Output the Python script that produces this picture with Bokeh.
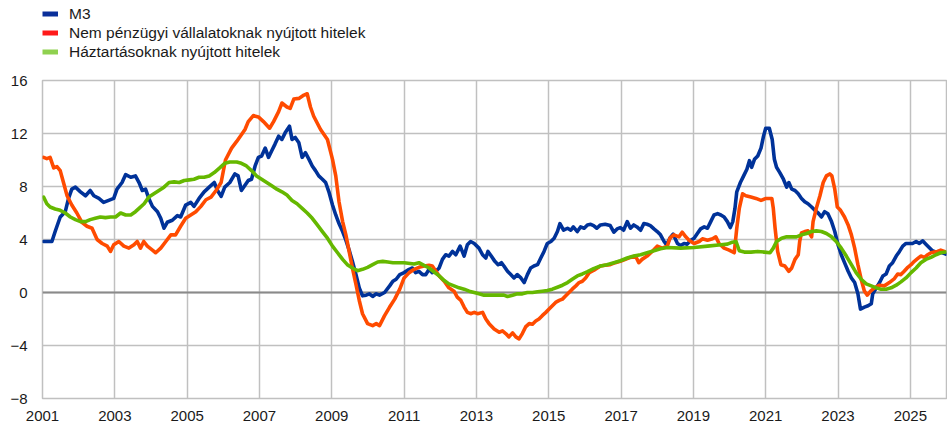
from bokeh.plotting import figure
from bokeh.layouts import column
from bokeh.models import Range1d, FixedTicker, Legend, LegendItem, Span
from bokeh.embed import file_html
from bokeh.resources import INLINE

# ---- data (decimal year, annual % change) ----
m3 = [(2001.03,3.85),(2001.26,3.85),(2001.35,4.6),(2001.49,5.7),(2001.63,6.1),(2001.72,7.1),(2001.81,7.8),(2001.91,7.95),(2002.05,7.6),(2002.19,7.3),(2002.32,7.7),(2002.42,7.3),(2002.56,7.1),(2002.69,6.8),(2002.83,6.95),(2002.97,7.1),(2003.06,7.8),(2003.2,8.3),(2003.3,8.9),(2003.44,8.7),(2003.57,8.8),(2003.67,8.3),(2003.76,7.7),(2003.85,7.8),(2003.94,7.1),(2004.04,6.5),(2004.18,6.1),(2004.27,5.6),(2004.36,4.85),(2004.45,5.3),(2004.59,5.45),(2004.73,5.8),(2004.82,5.7),(2004.96,6.6),(2005.1,6.8),(2005.19,6.5),(2005.33,7.1),(2005.47,7.6),(2005.61,7.95),(2005.75,8.3),(2005.84,7.7),(2005.94,7.25),
      (2006.04,7.95),(2006.18,8.3),(2006.32,8.95),(2006.41,8.8),(2006.5,7.7),(2006.6,8.1),(2006.69,8.45),(2006.78,8.55),(2006.88,9.55),(2006.97,10.2),(2007.06,10.3),(2007.16,10.9),(2007.25,10.2),(2007.34,10.7),(2007.43,11.2),(2007.53,11.8),(2007.62,11.55),(2007.71,12.05),(2007.83,12.55),(2007.9,11.55),(2007.99,11.7),(2008.09,11.3),(2008.18,10.2),(2008.27,10.55),(2008.37,10.05),(2008.46,9.55),(2008.55,9.2),(2008.64,8.8),(2008.74,8.55),(2008.83,8.3),(2008.92,7.6),(2009.02,6.6),(2009.11,5.85),(2009.2,5.2),(2009.3,4.6),(2009.39,3.95),(2009.48,3.2),(2009.57,2.35),(2009.67,1.35),(2009.76,0.35),(2009.85,-0.25),(2009.95,-0.2),(2010.04,-0.1),(2010.13,-0.3),(2010.23,-0.1),(2010.32,-0.2),(2010.46,0.0),(2010.6,0.5),(2010.69,0.85),(2010.78,1.0),(2010.88,1.35),
      (2011.0,1.5),(2011.14,1.75),(2011.23,1.85),(2011.32,1.5),(2011.41,1.6),(2011.51,1.35),(2011.6,1.35),(2011.69,1.75),(2011.78,1.5),(2011.88,1.6),(2011.97,1.85),(2012.06,2.5),(2012.15,2.85),(2012.24,2.75),(2012.34,3.1),(2012.43,2.85),(2012.55,3.5),(2012.66,2.75),(2012.75,3.6),(2012.84,3.85),(2012.94,3.7),(2013.07,3.35),(2013.17,2.85),(2013.26,2.6),(2013.32,3.1),(2013.41,2.75),(2013.51,2.35),(2013.6,2.1),(2013.69,2.25),(2013.76,2.0),(2013.86,1.6),(2013.95,1.35),(2014.04,1.1),(2014.13,1.35),(2014.23,1.1),(2014.32,0.75),(2014.41,1.35),(2014.5,1.85),(2014.59,2.0),(2014.69,2.1),(2014.78,2.6),(2014.87,3.1),(2014.96,3.7),(2015.06,3.85),(2015.15,4.1),(2015.24,4.6),(2015.31,5.2),(2015.41,4.7),(2015.52,4.85),(2015.61,4.7),(2015.68,4.95),(2015.79,4.6),(2015.88,4.95),(2015.98,4.85),(2016.07,5.1),(2016.16,5.15),
      (2016.24,5.05),(2016.33,4.85),(2016.43,5.1),(2016.56,5.15),(2016.7,5.05),(2016.8,4.55),(2016.89,4.8),(2016.98,4.9),(2017.07,4.7),(2017.17,5.35),(2017.26,4.85),(2017.35,5.1),(2017.44,4.95),(2017.54,4.7),(2017.63,5.2),(2017.72,5.15),(2017.81,5.05),(2017.91,4.8),(2018.0,4.6),(2018.09,4.35),(2018.19,3.85),(2018.26,3.6),(2018.35,4.1),(2018.44,4.4),(2018.56,3.7),(2018.65,3.55),(2018.74,3.7),(2018.83,3.65),(2018.93,3.95),(2019.02,4.1),(2019.11,4.45),(2019.2,4.8),(2019.3,4.95),(2019.39,4.85),(2019.48,5.35),(2019.57,5.85),(2019.67,5.95),(2019.76,5.85),(2019.85,5.7),(2019.94,5.35),(2020.02,4.9),(2020.09,5.35),(2020.15,6.35),(2020.2,7.6),(2020.3,8.3),(2020.39,8.8),(2020.48,9.3),(2020.55,9.95),(2020.61,9.45),(2020.69,10.05),(2020.78,10.3),(2020.87,10.9),(2020.94,11.8),(2021.0,12.4),(2021.1,12.4),
      (2021.18,11.55),(2021.24,10.05),(2021.3,9.45),(2021.39,9.05),(2021.49,8.55),(2021.58,7.95),(2021.64,8.3),(2021.72,7.8),(2021.81,7.7),(2021.9,7.45),(2021.99,7.1),(2022.08,6.85),(2022.17,6.7),(2022.27,6.45),(2022.36,6.2),(2022.45,6.0),(2022.54,5.7),(2022.63,6.1),(2022.72,5.95),(2022.82,5.35),(2022.91,4.6),(2023.0,3.6),(2023.09,2.85),(2023.18,2.25),(2023.28,1.6),(2023.37,1.1),(2023.46,0.75),(2023.55,-0.1),(2023.62,-1.25),(2023.73,-1.1),(2023.83,-1.0),(2023.92,-0.85),(2023.96,-0.1),(2024.06,0.35),(2024.15,0.75),(2024.24,1.25),(2024.33,1.4),(2024.42,2.0),(2024.51,2.25),(2024.61,2.75),(2024.7,3.1),(2024.79,3.5),(2024.88,3.7),(2024.97,3.7),(2025.06,3.7),(2025.16,3.85),(2025.25,3.7),(2025.34,3.9),(2025.43,3.65),(2025.52,3.4),(2025.61,3.15),(2025.71,3.05),(2025.8,3.0),(2025.89,3.0),(2025.98,2.9)]

nfc_loans = [(2001.03,10.2),(2001.12,10.1),(2001.21,10.2),(2001.31,9.4),(2001.4,9.5),(2001.49,9.2),(2001.58,8.3),(2001.68,7.3),(2001.81,6.6),(2001.95,6.0),(2002.09,5.3),(2002.23,5.0),(2002.37,4.85),(2002.51,4.0),(2002.65,3.7),(2002.79,3.5),(2002.88,3.1),(2002.97,3.6),(2003.11,3.85),(2003.25,3.5),(2003.39,3.35),(2003.53,3.6),(2003.62,3.85),(2003.71,3.35),(2003.8,3.85),(2003.9,3.5),(2004.04,3.2),(2004.13,3.0),(2004.27,3.35),(2004.41,3.85),(2004.55,4.35),(2004.68,4.35),(2004.82,5.0),(2004.96,5.6),(2005.1,5.85),(2005.24,6.1),(2005.38,6.5),(2005.52,7.0),(2005.66,7.2),(2005.8,7.7),(2005.94,8.3),
             (2006.06,10.0),(2006.23,10.9),(2006.37,11.4),(2006.5,11.9),(2006.6,12.3),(2006.69,12.9),(2006.83,13.35),(2006.97,13.25),(2007.11,12.9),(2007.28,12.4),(2007.39,12.9),(2007.53,13.65),(2007.62,14.3),(2007.76,14.0),(2007.85,13.9),(2007.95,14.6),(2008.09,14.65),(2008.23,14.9),(2008.32,15.0),(2008.41,14.0),(2008.5,13.3),(2008.69,12.3),(2008.88,11.55),(2009.02,10.05),(2009.11,8.8),(2009.2,6.85),(2009.3,5.35),(2009.39,4.35),(2009.48,3.1),(2009.57,1.85),(2009.67,0.6),(2009.76,-0.6),(2009.85,-1.6),(2009.99,-2.35),(2010.13,-2.5),(2010.23,-2.35),(2010.32,-2.5),(2010.46,-1.75),(2010.6,-1.1),(2010.74,-0.5),(2010.88,0.25),
             (2011.0,1.1),(2011.14,1.5),(2011.28,1.75),(2011.41,1.9),(2011.55,2.0),(2011.69,2.05),(2011.78,2.0),(2011.88,1.6),(2011.97,1.25),(2012.11,0.85),(2012.24,0.35),(2012.38,0.1),(2012.47,-0.35),(2012.57,-0.6),(2012.66,-1.1),(2012.75,-1.5),(2012.84,-1.6),(2012.94,-1.5),(2013.03,-1.6),(2013.17,-1.5),(2013.26,-2.0),(2013.35,-2.35),(2013.49,-2.75),(2013.63,-3.0),(2013.72,-2.9),(2013.81,-3.1),(2013.9,-3.35),(2014.0,-3.05),(2014.09,-3.35),(2014.18,-3.5),(2014.27,-3.1),(2014.36,-2.6),(2014.46,-2.35),(2014.55,-2.4),(2014.64,-2.15),(2014.73,-2.0),(2014.82,-1.75),(2014.92,-1.5),(2015.01,-1.25),(2015.1,-1.0),(2015.19,-0.75),(2015.29,-0.6),(2015.38,-0.5),(2015.47,-0.25),(2015.56,0.0),(2015.65,0.25),(2015.75,0.5),(2015.84,0.75),(2015.93,0.85),(2016.02,1.1),(2016.12,1.5),
             (2016.29,1.75),(2016.43,2.0),(2016.56,2.05),(2016.7,2.1),(2016.84,2.25),(2016.98,2.35),(2017.12,2.5),(2017.26,2.65),(2017.4,2.75),(2017.49,2.25),(2017.58,2.5),(2017.72,2.75),(2017.86,3.1),(2018.0,3.5),(2018.14,3.35),(2018.28,3.5),(2018.35,4.1),(2018.46,4.35),(2018.6,4.2),(2018.69,4.55),(2018.79,4.2),(2018.88,3.95),(2019.02,3.7),(2019.16,3.85),(2019.25,4.05),(2019.39,3.95),(2019.53,4.05),(2019.62,4.2),(2019.71,3.7),(2019.85,3.35),(2019.99,3.2),(2020.13,3.0),(2020.2,4.85),(2020.27,6.35),(2020.36,7.45),(2020.45,7.3),(2020.59,7.2),(2020.73,7.1),(2020.87,6.95),(2021.01,7.1),
             (2021.17,7.1),(2021.21,6.35),(2021.26,4.85),(2021.33,3.1),(2021.42,2.1),(2021.53,2.0),(2021.64,1.6),(2021.72,1.85),(2021.81,2.5),(2021.9,2.85),(2021.94,3.85),(2021.99,4.5),(2022.08,4.6),(2022.17,4.65),(2022.27,4.2),(2022.31,5.35),(2022.4,6.35),(2022.5,7.3),(2022.59,8.3),(2022.68,8.8),(2022.77,8.95),(2022.83,8.8),(2022.91,7.8),(2022.98,6.45),(2023.07,6.2),(2023.18,5.7),(2023.28,5.1),(2023.37,4.35),(2023.46,3.35),(2023.55,2.1),(2023.64,1.0),(2023.73,0.1),(2023.81,-0.2),(2023.9,0.1),(2024.01,0.35),(2024.15,0.55),(2024.28,0.5),(2024.42,0.75),(2024.56,1.05),(2024.65,1.4),(2024.74,1.35),(2024.83,1.6),(2024.93,1.9),(2025.02,2.1),(2025.11,2.35),(2025.2,2.55),(2025.29,2.75),(2025.39,2.65),(2025.48,2.85),(2025.57,3.0),(2025.66,3.05),(2025.75,3.1),(2025.84,3.2),(2025.94,3.1)]

hh_loans = [(2001.03,7.2),(2001.12,6.7),(2001.21,6.45),(2001.35,6.3),(2001.49,6.2),(2001.63,6.0),(2001.77,5.7),(2001.91,5.5),(2002.05,5.35),(2002.19,5.35),(2002.32,5.5),(2002.46,5.6),(2002.6,5.7),(2002.74,5.65),(2002.88,5.7),(2003.02,5.7),(2003.16,6.0),(2003.3,5.85),(2003.44,5.85),(2003.57,6.1),(2003.67,6.35),(2003.81,6.7),(2003.94,7.2),(2004.08,7.45),(2004.22,7.7),(2004.36,7.95),(2004.5,8.3),(2004.64,8.35),(2004.78,8.3),(2004.92,8.45),(2005.06,8.5),(2005.19,8.55),(2005.33,8.7),(2005.47,8.7),(2005.61,8.8),(2005.75,9.05),(2005.9,9.4),
            (2006.04,9.75),(2006.18,9.85),(2006.37,9.85),(2006.5,9.75),(2006.64,9.55),(2006.78,9.2),(2006.92,8.8),(2007.06,8.55),(2007.2,8.3),(2007.34,8.05),(2007.48,7.8),(2007.62,7.6),(2007.76,7.35),(2007.9,6.95),(2008.04,6.7),(2008.18,6.35),(2008.32,6.0),(2008.46,5.6),(2008.6,5.1),(2008.74,4.6),(2008.88,4.1),(2009.02,3.5),(2009.16,3.0),(2009.3,2.5),(2009.43,2.1),(2009.57,1.85),(2009.71,1.65),(2009.85,1.75),(2009.99,1.9),(2010.13,2.1),(2010.27,2.3),(2010.41,2.35),(2010.55,2.3),(2010.69,2.25),(2010.83,2.25),
            (2011.0,2.25),(2011.28,2.15),(2011.41,2.25),(2011.55,2.05),(2011.69,1.85),(2011.83,1.55),(2011.97,1.25),(2012.11,0.9),(2012.24,0.65),(2012.38,0.5),(2012.52,0.35),(2012.66,0.25),(2012.8,0.1),(2012.94,0.0),(2013.07,-0.1),(2013.21,-0.2),(2013.49,-0.2),(2013.76,-0.2),(2013.86,-0.3),(2014.0,-0.2),(2014.13,-0.1),(2014.27,-0.1),(2014.41,0.0),(2014.55,0.0),(2014.69,0.05),(2014.82,0.1),(2014.96,0.15),(2015.1,0.25),(2015.24,0.4),(2015.38,0.55),(2015.52,0.75),(2015.65,1.0),(2015.79,1.25),(2015.93,1.4),
            (2016.06,1.55),(2016.24,1.8),(2016.43,2.0),(2016.61,2.1),(2016.8,2.25),(2016.98,2.4),(2017.17,2.6),(2017.35,2.75),(2017.54,2.85),(2017.72,3.0),(2017.91,3.15),(2018.09,3.3),(2018.28,3.4),(2018.65,3.35),(2019.02,3.4),(2019.39,3.5),(2019.76,3.6),(2019.94,3.65),(2020.08,3.8),(2020.18,3.85),(2020.27,3.15),(2020.41,3.05),(2020.59,3.05),(2020.78,3.1),(2020.96,3.05),
            (2021.12,3.0),(2021.21,3.35),(2021.3,3.85),(2021.44,4.1),(2021.58,4.2),(2021.72,4.2),(2021.85,4.2),(2021.99,4.35),(2022.13,4.45),(2022.27,4.6),(2022.4,4.65),(2022.54,4.6),(2022.68,4.45),(2022.82,4.2),(2022.95,3.85),(2023.09,3.35),(2023.23,2.75),(2023.37,2.1),(2023.5,1.5),(2023.64,1.0),(2023.78,0.65),(2023.92,0.5),(2024.06,0.35),(2024.19,0.25),(2024.33,0.25),(2024.47,0.35),(2024.61,0.55),(2024.74,0.8),(2024.88,1.1),(2025.02,1.5),(2025.16,1.85),(2025.29,2.25),(2025.43,2.5),(2025.57,2.65),(2025.71,2.85),(2025.84,3.0),(2025.98,3.05)]

series_labels = ["M3", "Nem pénzügyi vállalatoknak nyújtott hitelek", "Háztartásoknak nyújtott hitelek"]
x_ticks = list(range(2001, 2026, 2))
y_ticks = [-8, -4, 0, 4, 8, 12, 16]

FONT = "Liberation Sans"
GRID = "#c0c0c0"
TEXT = "#1a1a1a"
W = 947
NAN = float("nan")

# ---------------- legend strip (own small figure above the chart) ----------------
lg = figure(width=W, height=72, output_backend="svg", toolbar_location=None,
            x_range=Range1d(0, 1), y_range=Range1d(0, 1),
            min_border_left=0, min_border_right=0, min_border_top=0, min_border_bottom=0)
lg.axis.visible = False
lg.grid.visible = False
lg.outline_line_color = None
lg.background_fill_color = "white"
lg.border_fill_color = "white"

legend_cols = ["#0a2f9a", "#ff1a1a", "#8fd14f"]
items = []
for lab, col in zip(series_labels, legend_cols):
    # legend proxy: a single undefined point, so nothing is drawn in the strip itself
    r = lg.line([NAN], [NAN], line_color=col, line_width=5)
    items.append(LegendItem(label=lab, renderers=[r]))
legend = Legend(items=items, location=(0, 11), orientation="vertical",
                padding=0, margin=0, spacing=0,
                glyph_width=16, glyph_height=19, label_height=19, label_standoff=11,
                label_text_font=FONT, label_text_font_size="15.5px", label_text_color=TEXT,
                background_fill_alpha=0, border_line_color=None)
lg.add_layout(legend, "center")

# ---------------- main chart ----------------
p = figure(width=W, height=352, output_backend="svg", toolbar_location=None,
           x_range=Range1d(2001, 2026), y_range=Range1d(-8, 16),
           min_border_left=42, min_border_right=1, min_border_top=8, min_border_bottom=26)
p.background_fill_color = "white"
p.border_fill_color = "white"
p.outline_line_color = GRID
p.outline_line_width = 1.5

for ax in (p.xaxis[0], p.yaxis[0]):
    ax.axis_line_color = None
    ax.major_tick_line_color = None
    ax.minor_tick_line_color = None
    ax.major_label_text_font = FONT
    ax.major_label_text_font_size = "15px"
    ax.major_label_text_color = TEXT
p.xaxis[0].ticker = FixedTicker(ticks=x_ticks)
p.yaxis[0].ticker = FixedTicker(ticks=y_ticks)
p.xaxis[0].major_label_standoff = 6
p.yaxis[0].major_label_standoff = 9

p.xgrid[0].ticker = FixedTicker(ticks=x_ticks)
p.ygrid[0].ticker = FixedTicker(ticks=y_ticks)
for g in (p.xgrid[0], p.ygrid[0]):
    g.grid_line_color = GRID
    g.grid_line_width = 1.5

zero = Span(location=0, dimension="width", line_color="#8a8a8a", line_width=1.8, level="underlay")
p.add_layout(zero)

def unzip(pairs):
    return [a for a, _ in pairs], [b for _, b in pairs]

for data, col in ((m3, "#003299"), (nfc_loans, "#ff4b00"), (hh_loans, "#65b800")):
    xs, ys = unzip(data)
    p.line(xs, ys, line_color=col, line_width=3.6, line_join="round", line_cap="round")

layout = column(lg, p, spacing=0)
open("out.html", "w").write(file_html(layout, INLINE))
